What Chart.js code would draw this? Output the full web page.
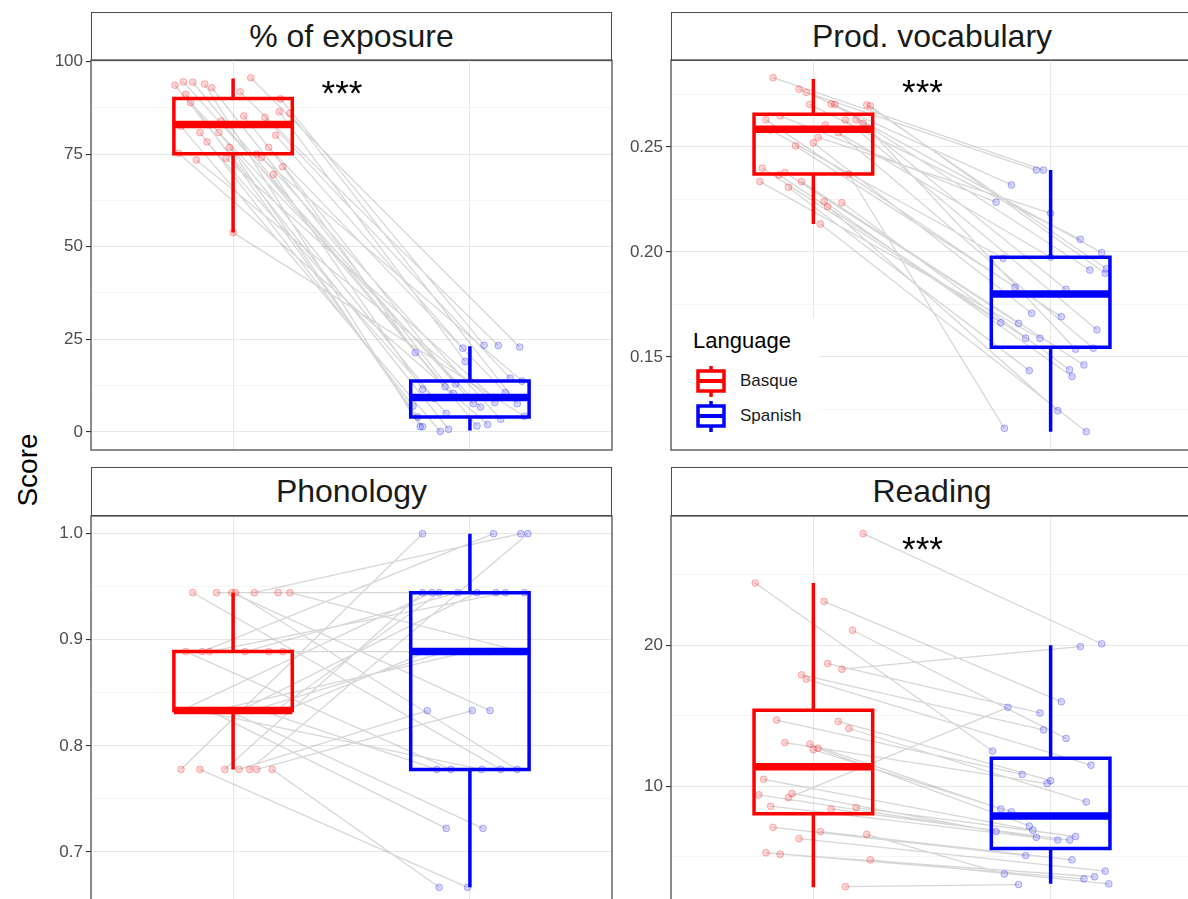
<!DOCTYPE html>
<html>
<head>
<meta charset="utf-8">
<script src="https://cdn.jsdelivr.net/npm/chart.js@4.4.1/dist/chart.umd.min.js"></script>
<style>
  body { margin: 0; width: 1188px; height: 899px; overflow: hidden; background: #fff; position: relative;
         font-family: "Liberation Sans", Arial, sans-serif; }
  canvas { position: absolute; }
  .strip { position: absolute; box-sizing: border-box; height: 49px; border: 1.3px solid #4d4d4d; background: #fff;
           color: #1a1a1a; font-size: 32px; text-align: center; line-height: 46px; }
  #ylab { position: absolute; left: 28px; top: 470px; transform: translate(-50%, -50%) rotate(-90deg);
          font-size: 28px; color: #000; white-space: nowrap; }
  #legend { position: absolute; left: 673px; top: 318px; width: 146px; height: 131px; background: #fff; }
  #legend .ttl { position: absolute; left: 20px; top: 10px; font-size: 22px; color: #000; }
  #legend .key { position: absolute; left: 22px; }
  #legend .lab { position: absolute; left: 67px; font-size: 17px; color: #1a1a1a; }
</style>
</head>
<body>

<div class="strip" style="left:91px;top:12px;width:521px">% of exposure</div>
<div class="strip" style="left:671px;top:12px;width:522px">Prod. vocabulary</div>
<div class="strip" style="left:91px;top:467px;width:521px">Phonology</div>
<div class="strip" style="left:671px;top:467px;width:522px">Reading</div>
<div id="ylab">Score</div>

<canvas id="c1"></canvas>
<canvas id="c2"></canvas>
<canvas id="c3"></canvas>
<canvas id="c4"></canvas>

<div id="legend">
  <div class="ttl">Language</div>
  <svg class="key" style="top:47px" width="32" height="33" viewBox="0 0 32 33">
    <line x1="16" y1="1" x2="16" y2="32" stroke="#ff0000" stroke-width="3.5"/>
    <rect x="3" y="6" width="26" height="20" fill="#fff" stroke="#ff0000" stroke-width="3.5"/>
    <line x1="3" y1="16" x2="29" y2="16" stroke="#ff0000" stroke-width="4"/>
  </svg>
  <div class="lab" style="top:53px">Basque</div>
  <svg class="key" style="top:82px" width="32" height="33" viewBox="0 0 32 33">
    <line x1="16" y1="1" x2="16" y2="32" stroke="#0000ff" stroke-width="3.5"/>
    <rect x="3" y="6" width="26" height="20" fill="#fff" stroke="#0000ff" stroke-width="3.5"/>
    <line x1="3" y1="16" x2="29" y2="16" stroke="#0000ff" stroke-width="4"/>
  </svg>
  <div class="lab" style="top:88px">Spanish</div>
</div>

<script>
// ---- data (pairs share an index) ----
const languages = ["Basque", "Spanish"];

// % of exposure
const exposureBasque = [95.6, 94.5, 94.4, 93.9, 93.6, 92.9, 91.8, 91.1, 89.9, 88.9, 86.4, 85.3, 84.9, 83.9, 82.5,
                        80.8, 80.8, 80.1, 78.3, 76.8, 76.8, 75.2, 75.0, 74.1, 73.9, 73.4, 71.6, 69.5, 86.0, 53.8];
const exposureBasqueJit = [0.075, -0.21, -0.17, -0.12, -0.245, -0.09, 0.03, -0.2, 0.2, -0.18, 0.195, 0.045, 0.135, -0.05, -0.22,
                           -0.14, -0.06, 0.18, -0.11, -0.015, 0.15, -0.23, 0.1, 0.12, -0.03, -0.155, 0.21, 0.17, 0.24, 0.0];
const exposureSpanish = [22.9, 7.6, 12.2, 1.4, 0.7, 10.4, 23.3, 4.0, 23.4, 6.7, 19.0, 12.9, 14.5, 1.6, 0.1,
                         7.0, 9.0, 22.6, 5.0, 1.4, 10.6, 2.0, 13.7, 3.4, 9.3, 7.9, 21.4, 11.5, 7.6, 4.2];
const exposureSpanishJit = [0.21, 0.015, -0.105, -0.21, -0.09, -0.07, 0.12, -0.22, 0.06, 0.045, -0.02, -0.06, 0.17, 0.03, -0.125,
                            -0.24, -0.15, -0.03, -0.1, -0.2, 0.15, 0.075, 0.22, 0.13, 0.1, 0.105, -0.23, -0.2, 0.2, 0.23];
// [lower whisker, Q1, median, Q3, upper whisker]
const exposureBoxBasque = [53.8, 75.1, 83.0, 90.0, 95.4];
const exposureBoxSpanish = [0.35, 4.0, 9.3, 13.7, 23.1];
const exposureTicks = [0, 25, 50, 75, 100];
const exposureTickLabels = ["0", "25", "50", "75", "100"];
const exposureMinor = [12.5, 37.5, 62.5, 87.5];

// Prod. vocabulary
const vocabBasque = [0.283, 0.2775, 0.276, 0.2703, 0.2705, 0.2703, 0.270, 0.2695, 0.2648, 0.2629, 0.2629, 0.2629, 0.2613, 0.2568, 0.2546,
                     0.252, 0.2505, 0.2399, 0.2378, 0.2367, 0.2335, 0.2335, 0.2308, 0.2235, 0.224, 0.2216, 0.2133, 0.237, 0.258, 0.2605];
const vocabBasqueJit = [-0.17, -0.06, -0.03, -0.015, 0.075, 0.09, 0.225, 0.24, -0.14, -0.2, 0.135, 0.18, 0.21, 0.105, 0.02,
                        0.0, -0.075, -0.215, -0.12, -0.145, -0.225, -0.05, -0.105, 0.12, 0.045, 0.06, 0.03, 0.15, -0.18, 0.05];
const vocabSpanish = [0.239, 0.2319, 0.239, 0.206, 0.1997, 0.1914, 0.192, 0.1899, 0.2237, 0.1832, 0.1629, 0.1822, 0.1537, 0.1542, 0.2184,
                      0.1708, 0.1692, 0.1663, 0.166, 0.1589, 0.1589, 0.1462, 0.1435, 0.1439, 0.1407, 0.1244, 0.1144, 0.116, 0.197, 0.1975];
const vocabSpanishJit = [-0.03, -0.165, -0.06, 0.125, 0.215, 0.165, 0.235, 0.23, -0.23, -0.15, 0.195, 0.065, 0.105, 0.18, 0.0,
                         -0.08, 0.045, -0.21, -0.135, -0.105, -0.045, 0.14, -0.09, 0.08, 0.09, 0.03, 0.15, -0.195, -0.2, 0.0];
const vocabBoxBasque = [0.2133, 0.2371, 0.2584, 0.2656, 0.2824];
const vocabBoxSpanish = [0.1144, 0.1546, 0.18, 0.1975, 0.239];
const vocabTicks = [0.15, 0.20, 0.25];
const vocabTickLabels = ["0.15", "0.20", "0.25"];
const vocabMinor = [0.125, 0.175, 0.225, 0.275];

// Phonology
const phonoBasque = [0.9444, 0.9444, 0.9444, 0.9444, 0.9444, 0.9444, 0.9444,
                     0.8889, 0.8889, 0.8889, 0.8889, 0.8889, 0.8889,
                     0.8333, 0.8333, 0.8333, 0.8333, 0.8333, 0.8333, 0.8333, 0.8333, 0.8333, 0.8333,
                     0.7778, 0.7778, 0.7778, 0.7778, 0.7778, 0.7778, 0.7778];
const phonoBasqueJit = [-0.17, -0.07, -0.005, 0.01, 0.09, 0.19, 0.24,
                        -0.13, -0.1, 0.21, -0.2, 0.05, 0.15,
                        -0.22, -0.15, -0.08, -0.02, 0.03, 0.08, 0.12, 0.18, 0.22, -0.1,
                        -0.22, -0.14, -0.035, 0.025, 0.07, 0.1, 0.165];
const phonoSpanish = [0.7778, 0.9444, 0.8333, 0.7778, 1.0, 0.9444, 0.8889,
                      1.0, 0.9444, 0.8889, 0.7778, 0.9444, 0.8889,
                      0.9444, 0.7778, 0.8889, 0.7222, 0.9444, 0.8889, 0.7778, 0.9444, 0.8889, 0.7222,
                      1.0, 0.6667, 0.9444, 0.8333, 1.0, 0.8333, 0.6667];
const phonoSpanishJit = [0.13, 0.11, 0.085, 0.2, 0.215, 0.23, 0.22,
                         0.1, 0.15, 0.17, -0.08, -0.05, 0.08,
                         -0.16, 0.05, 0.0, 0.055, 0.03, -0.1, -0.14, -0.13, -0.18, -0.1,
                         -0.2, -0.01, -0.2, -0.18, 0.245, 0.01, -0.13];
const phonoBoxBasque = [0.7778, 0.8333, 0.8333, 0.8889, 0.9444];
const phonoBoxSpanish = [0.6667, 0.7778, 0.8889, 0.9444, 1.0];
const phonoTicks = [0.7, 0.8, 0.9, 1.0];
const phonoTickLabels = ["0.7", "0.8", "0.9", "1.0"];
const phonoMinor = [0.65, 0.75, 0.85, 0.95];

// Reading
const readingBasque = [27.9, 24.4, 23.1, 21.06, 18.7, 18.3, 17.9, 17.6, 14.7, 14.6, 14.1, 13.1, 13.0, 12.6, 12.7,
                       10.5, 9.4, 9.5, 9.2, 8.6, 8.4, 8.5, 7.1, 6.8, 6.6, 6.3, 5.3, 5.2, 4.8, 2.9];
const readingBasqueJit = [0.21, -0.245, 0.045, 0.165, 0.06, 0.12, -0.05, -0.03, -0.155, 0.105, 0.15, -0.12, -0.015, 0.0, 0.02,
                          -0.21, -0.23, -0.09, -0.105, -0.18, 0.075, 0.18, -0.17, 0.03, 0.225, -0.06, -0.2, -0.14, 0.24, 0.135];
const readingSpanish = [20.1, 12.5, 16.0, 13.4, 15.2, 19.9, 14.0, 11.5, 10.85, 10.4, 8.9, 10.2, 8.4, 8.2, 7.2,
                        6.9, 6.4, 6.8, 15.6, 6.2, 6.2, 6.45, 5.1, 4.8, 3.8, 4.0, 3.45, 3.6, 3.1, 3.05];
const readingSpanishJit = [0.215, -0.245, 0.045, 0.065, -0.045, 0.125, -0.03, 0.17, -0.12, 0.0, 0.15, -0.015, -0.21, -0.165, -0.09,
                           -0.075, -0.06, -0.23, -0.18, 0.03, 0.08, 0.105, -0.105, 0.09, -0.195, 0.23, 0.14, 0.185, 0.245, -0.135];
const readingBoxBasque = [2.86, 8.06, 11.4, 15.4, 24.4];
const readingBoxSpanish = [3.1, 5.6, 7.9, 12.0, 20.0];
const readingTicks = [10, 20];
const readingTickLabels = ["10", "20"];
const readingMinor = [5, 15, 25];

// ---- drawing ----
const RED = "#ff0000", BLUE = "#0000ff";
const FONT = "'Liberation Sans', Arial, sans-serif";
const PAD = 20, AXW = 70;

function boxDatasets(pos, stats, color) {
  const [lo, q1, med, q3, hi] = stats;
  const l = pos - 0.25, r = pos + 0.25;
  const common = { showLine: true, pointRadius: 0, borderColor: color, fill: false, order: 0 };
  return [
    Object.assign({}, common, { borderWidth: 3.5, data: [{x: pos, y: hi}, {x: pos, y: q3}, {x: pos, y: null}, {x: pos, y: q1}, {x: pos, y: lo}] }),
    Object.assign({}, common, { borderWidth: 3.5, borderJoinStyle: "miter",
      data: [{x: l, y: q1}, {x: r, y: q1}, {x: r, y: q3}, {x: l, y: q3}, {x: l, y: q1}, {x: r, y: q1}] }),
    Object.assign({}, common, { borderWidth: 7.5, data: [{x: l, y: med}, {x: r, y: med}] })
  ];
}

function facet(id, f) {
  const cv = document.getElementById(id);
  cv.width = f.w + AXW + 10;
  cv.height = f.h + 2 * PAD;
  cv.style.left = (f.left - AXW) + "px";
  cv.style.top = (f.top - PAD) + "px";

  const pairs = [];
  f.b.forEach((v, i) => {
    pairs.push({x: 1 + f.bj[i], y: v}, {x: 2 + f.sj[i], y: f.s[i]}, {x: 1.5, y: null});
  });
  const ptsB = f.b.map((v, i) => ({x: 1 + f.bj[i], y: v}));
  const ptsS = f.s.map((v, i) => ({x: 2 + f.sj[i], y: v}));
  const allTicks = f.ticks.concat(f.minor).sort((a, b) => a - b);

  new Chart(cv, {
    type: "scatter",
    data: {
      datasets: [
        { data: pairs, showLine: true, pointRadius: 0, borderColor: "rgba(130,130,130,0.32)", borderWidth: 1.3, order: 3 },
        { data: ptsB, pointRadius: 3.4, backgroundColor: "rgba(255,0,0,0.16)", borderColor: "rgba(255,0,0,0.28)", borderWidth: 1, order: 2 },
        { data: ptsS, pointRadius: 3.4, backgroundColor: "rgba(0,0,255,0.16)", borderColor: "rgba(0,0,255,0.28)", borderWidth: 1, order: 2 },
        ...boxDatasets(1, f.boxB, RED),
        ...boxDatasets(2, f.boxS, BLUE)
      ]
    },
    options: {
      responsive: false,
      animation: false,
      layout: { padding: { top: PAD, bottom: PAD, left: 0, right: 10 } },
      plugins: { legend: { display: false }, tooltip: { enabled: false } },
      scales: {
        x: {
          type: "linear", min: 0.4, max: 2.6,
          afterBuildTicks: s => { s.ticks = [{value: 1}, {value: 2}]; },
          afterFit: s => { s.height = 0; s.paddingLeft = 0; s.paddingRight = 0; },
          ticks: { display: false },
          grid: { color: "#e8e8e8", lineWidth: 1.1, drawTicks: false },
          border: { display: false }
        },
        y: {
          min: f.min, max: f.max,
          afterBuildTicks: s => { s.ticks = allTicks.map(v => ({value: v})); },
          afterFit: s => { s.width = AXW; s.paddingTop = 0; s.paddingBottom = 0; },
          ticks: {
            autoSkip: false, padding: 3, color: "#4d4d4d", font: { family: FONT, size: 17 },
            callback: v => { const k = f.ticks.indexOf(v); return k >= 0 ? f.labels[k] : ""; }
          },
          grid: {
            tickLength: 5,
            color: c => f.ticks.includes(c.tick.value) ? "#e8e8e8" : "#f3f3f3",
            lineWidth: c => f.ticks.includes(c.tick.value) ? 1.1 : 0.8,
            tickColor: c => f.ticks.includes(c.tick.value) ? "#333333" : "rgba(0,0,0,0)",
            tickWidth: 1.1
          },
          border: { display: false }
        }
      }
    },
    plugins: [{
      id: "frame",
      afterDatasetsDraw(chart) {
        const ctx = chart.ctx, a = chart.chartArea;
        if (f.star !== null) {
          ctx.save();
          ctx.fillStyle = "#000";
          ctx.font = "35px " + FONT;
          ctx.textAlign = "center";
          ctx.textBaseline = "alphabetic";
          ctx.fillText("***", chart.scales.x.getPixelForValue(1.46), chart.scales.y.getPixelForValue(f.star) + 16);
          ctx.restore();
        }
        ctx.save();
        ctx.strokeStyle = "#4d4d4d";
        ctx.lineWidth = 1.3;
        ctx.strokeRect(a.left, a.top, a.right - a.left, a.bottom - a.top);
        ctx.restore();
      }
    }]
  });
}

facet("c1", { left: 91, top: 60, w: 521, h: 390, min: -4.9, max: 100.4,
  b: exposureBasque, bj: exposureBasqueJit, s: exposureSpanish, sj: exposureSpanishJit,
  boxB: exposureBoxBasque, boxS: exposureBoxSpanish,
  ticks: exposureTicks, labels: exposureTickLabels, minor: exposureMinor, star: 92.6 });

facet("c2", { left: 671, top: 60, w: 522, h: 390, min: 0.1057, max: 0.2914,
  b: vocabBasque, bj: vocabBasqueJit, s: vocabSpanish, sj: vocabSpanishJit,
  boxB: vocabBoxBasque, boxS: vocabBoxSpanish,
  ticks: vocabTicks, labels: vocabTickLabels, minor: vocabMinor, star: 0.2781 });

facet("c3", { left: 91, top: 516, w: 521, h: 389, min: 0.65, max: 1.0167,
  b: phonoBasque, bj: phonoBasqueJit, s: phonoSpanish, sj: phonoSpanishJit,
  boxB: phonoBoxBasque, boxS: phonoBoxSpanish,
  ticks: phonoTicks, labels: phonoTickLabels, minor: phonoMinor, star: null });

facet("c4", { left: 671, top: 516, w: 522, h: 389, min: 1.6, max: 29.15,
  b: readingBasque, bj: readingBasqueJit, s: readingSpanish, sj: readingSpanishJit,
  boxB: readingBoxBasque, boxS: readingBoxSpanish,
  ticks: readingTicks, labels: readingTickLabels, minor: readingMinor, star: 27.1 });
</script>
</body>
</html>
